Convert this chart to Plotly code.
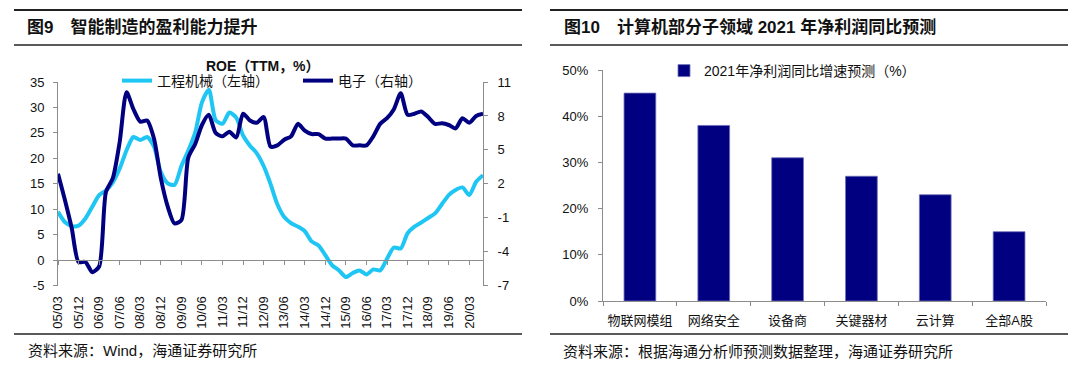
import plotly.graph_objects as go

# ---------------- data ----------------
quarters = [f"{yy:02d}/{mm:02d}" for yy in range(5, 21) for mm in (3, 6, 9, 12)][:63]
tick_labels = quarters[::3]

machinery_roe = [9.5, 7.5, 6.7, 6.8, 8.2, 10.5, 12.8, 13.7, 15.3, 18.0,
                 21.6, 24.2, 23.6, 24.2, 22.3, 17.3, 15.1, 14.8, 18.5, 21.5,
                 25.0, 31.0, 33.5, 27.5, 26.8, 29.0, 28.0, 24.5, 22.5, 21.0,
                 18.5, 15.0, 11.0, 8.5, 7.3, 6.6, 5.7, 3.7, 2.9, 1.0,
                 -1.0, -2.0, -3.3, -2.5, -2.0, -2.8, -1.8, -2.0, 0.3, 2.5,
                 2.3, 5.3, 6.6, 7.4, 8.3, 9.2, 11.0, 12.8, 13.8, 14.3,
                 12.8, 15.4, 16.7]

electronics_roe = [2.9, 0.6, -1.9, -4.9, -4.9, -5.8, -5.3, 1.3, 2.5, 5.7,
                   10.1, 8.6, 7.5, 7.6, 6.0, 2.5, 0.0, -1.5, -1.2, 4.3,
                   5.5, 7.2, 8.1, 6.5, 6.2, 6.6, 6.1, 8.2, 7.6, 7.4,
                   7.9, 5.3, 5.4, 5.9, 6.2, 7.3, 6.7, 6.4, 6.4, 6.0,
                   6.0, 6.0, 6.0, 5.4, 5.4, 5.4, 6.2, 7.3, 7.8, 8.6,
                   10.0, 8.1, 8.2, 8.4, 7.9, 7.3, 7.35, 7.2, 6.9, 7.8,
                   7.4, 8.0, 8.2]

sectors = ["物联网模组", "网络安全", "设备商", "关键器材", "云计算", "全部A股"]
growth_2021 = [45, 38, 31, 27, 23, 15]

left_ticks = [-5, 0, 5, 10, 15, 20, 25, 30, 35]
right_ticks = [-7, -4, -1, 2, 5, 8, 11]
pct_ticks = [0, 10, 20, 30, 40, 50]

# ---------------- style ----------------
W, H = 1080, 375
FONT = "Arial, 'Liberation Sans', 'Noto Sans CJK SC', sans-serif"
LIGHT = "#1FC6F4"
NAVY = "#000080"
AXIS = "#8C8C8C"
TXT = "#111111"


def px(x):
    return x / W


def py(y):
    return 1 - y / H


fig = go.Figure()
fig.add_trace(go.Scatter(
    x=quarters, y=machinery_roe, name="工程机械（左轴）", mode="lines",
    line=dict(color=LIGHT, width=4, shape="spline", smoothing=0.7),
    xaxis="x", yaxis="y", legend="legend"))
fig.add_trace(go.Scatter(
    x=quarters, y=electronics_roe, name="电子（右轴）", mode="lines",
    line=dict(color=NAVY, width=4, shape="spline", smoothing=0.7),
    xaxis="x3", yaxis="y2", legend="legend3"))
fig.add_trace(go.Bar(
    x=sectors, y=growth_2021, name="2021年净利润同比增速预测（%）",
    marker=dict(color=NAVY, line=dict(color="#7070B8", width=0.8)),
    width=0.43, xaxis="x2", yaxis="y3", legend="legend2"))

tickfont = dict(family=FONT, size=13, color=TXT)
axis_common = dict(showgrid=False, linecolor=AXIS, linewidth=1, tickcolor=AXIS,
                   tickfont=tickfont, automargin=False)
legend_common = dict(orientation="h", xanchor="left", yanchor="middle",
                     bgcolor="rgba(0,0,0,0)", borderwidth=0, itemwidth=30,
                     font=dict(family=FONT, size=14, color=TXT))

fig.update_layout(
    width=W, height=H, margin=dict(l=0, r=0, t=0, b=0, autoexpand=False),
    paper_bgcolor="white", plot_bgcolor="rgba(0,0,0,0)",
    font=dict(family=FONT, color=TXT),
    # category axis carrying the rotated labels at the bottom
    xaxis=dict(domain=[px(58), px(483)], anchor="y", type="category",
               range=[0, len(quarters) - 1], tickmode="array",
               tickvals=tick_labels, ticktext=tick_labels, tickangle=-90,
               showline=False, ticks="", ticklabelstandoff=7,
               showgrid=False, tickfont=tickfont, automargin=False),
    # same categories, drawn as the axis line crossing at zero
    xaxis3=dict(domain=[px(58), px(483)], anchor="free", overlaying="x",
                position=py(260), type="category",
                range=[0, len(quarters) - 1], tickmode="array",
                tickvals=tick_labels, showticklabels=False, ticks="outside",
                ticklen=4, showline=True, linecolor=AXIS, tickcolor=AXIS,
                showgrid=False, zeroline=False, automargin=False),
    yaxis=dict(domain=[py(285.7), py(82)], anchor="x", range=[-5, 35],
               tickmode="array", tickvals=left_ticks,
               ticktext=[str(v) for v in left_ticks], showline=True,
               ticks="outside", ticklen=4, zeroline=False,
               ticklabelstandoff=6, **axis_common),
    yaxis2=dict(overlaying="y", side="right", anchor="x", range=[-7, 11],
                tickmode="array", tickvals=right_ticks,
                ticktext=[str(v) for v in right_ticks], showline=True,
                ticks="outside", ticklen=4, zeroline=False,
                ticklabelstandoff=7, **axis_common),
    xaxis2=dict(domain=[px(603), px(1046)], anchor="y3", type="category",
                showline=True, ticks="outside", ticklen=4, tickson="boundaries",
                tickangle=0, ticklabelstandoff=7, **axis_common),
    yaxis3=dict(domain=[py(301), py(70)], anchor="x2", range=[0, 50],
                tickmode="array", tickvals=pct_ticks,
                ticktext=[f"{v}%" for v in pct_ticks],
                showline=True, ticks="outside", ticklen=4, zeroline=False,
                ticklabelstandoff=7, **axis_common),
    legend=dict(x=px(117), y=py(81), **legend_common),
    legend3=dict(x=px(298), y=py(81), **legend_common),
    legend2=dict(x=px(664), y=py(71), **legend_common),
    showlegend=True,
)

# header / footer rules
rules = [
    (14, 522, 10, 2), (14, 522, 45, 1.6), (14, 522, 334, 1.6),
    (550, 1068, 10, 2), (550, 1068, 45, 1.6), (550, 1068, 334, 1.6),
]
for x0, x1, yy, wdt in rules:
    fig.add_shape(type="line", xref="paper", yref="paper",
                  x0=px(x0), x1=px(x1), y0=py(yy), y1=py(yy),
                  line=dict(color="#222222", width=wdt))

texts = [
    (26, 27, "<b>图9　智能制造的盈利能力提升</b>", 17, "left"),
    (563, 27, "<b>图10　计算机部分子领域 2021 年净利润同比预测</b>", 17, "left"),
    (263, 66, "<b>ROE（TTM，%）</b>", 14, "center"),
    (27, 350, "资料来源：Wind，海通证券研究所", 15, "left"),
    (562, 351, "资料来源：根据海通分析师预测数据整理，海通证券研究所", 15, "left"),
]
for xx, yy, t, sz, anc in texts:
    fig.add_annotation(xref="paper", yref="paper", x=px(xx), y=py(yy), text=t,
                       showarrow=False, xanchor=anc, yanchor="middle",
                       borderpad=0, font=dict(family=FONT, size=sz, color=TXT))

fig.write_html("out.html", config={"displayModeBar": False},
               post_script="document.body.style.margin='0';")
